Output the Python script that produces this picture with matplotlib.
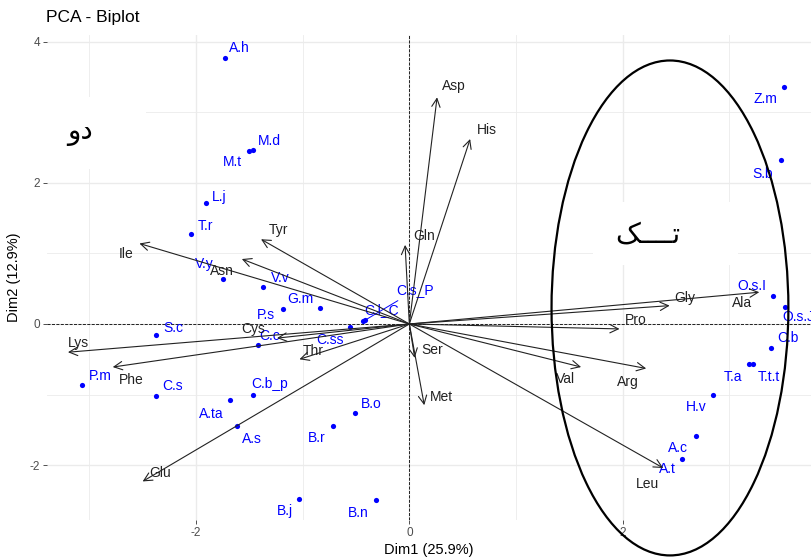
import matplotlib
matplotlib.use("Agg")
import matplotlib.pyplot as plt
from matplotlib.patches import Ellipse, Rectangle

plt.rcParams['font.family'] = ['Liberation Sans', 'DejaVu Sans']
plt.rcParams['axes.unicode_minus'] = False

# individuals (PCA scores, Dim1 / Dim2)
ind_names = ['A.h', 'M.d', 'M.t', 'L.j', 'T.r', 'V.y', 'V.v', 'P.s', 'G.m', 'C.s_P',
             'C.l_C', 'C.ss', 'S.c', 'C.c', 'P.m', 'C.s', 'C.b_p', 'A.ta', 'A.s', 'B.o',
             'B.r', 'B.j', 'B.n', 'Z.m', 'S.b', 'O.s.I', 'O.s.J', 'C.b', 'T.a', 'T.t.t',
             'H.v', 'A.c', 'A.t']
ind_x = [-1.73, -1.47, -1.50, -1.91, -2.05, -1.75, -1.37, -1.18, -0.84, -0.43,
         -0.42, -0.56, -2.37, -1.42, -3.07, -2.37, -1.47, -1.68, -1.62, -0.51,
         -0.72, -1.03, -0.31, 3.51, 3.48, 3.41, 3.52, 3.39, 3.18, 3.22,
         2.85, 2.69, 2.56]
ind_y = [3.77, 2.47, 2.45, 1.71, 1.28, 0.63, 0.52, 0.21, 0.22, 0.04,
         0.06, -0.04, -0.16, -0.30, -0.86, -1.02, -1.01, -1.08, -1.45, -1.26,
         -1.45, -2.48, -2.49, 3.36, 2.32, 0.40, 0.24, -0.34, -0.57, -0.57,
         -1.01, -1.59, -1.91]

# variables (loadings, scaled)
var_names = ['Asp', 'His', 'Gln', 'Tyr', 'Ile', 'Asn', 'Lys', 'Phe', 'Cys', 'Thr',
             'Glu', 'Ser', 'Met', 'Val', 'Arg', 'Pro', 'Gly', 'Ala', 'Leu']
var_x = [0.26, 0.57, -0.04, -1.39, -2.53, -1.57, -3.20, -2.78, -1.24, -1.03,
         -2.50, 0.05, 0.14, 1.61, 2.22, 1.97, 2.44, 3.28, 2.38]
var_y = [3.21, 2.62, 1.12, 1.20, 1.14, 0.92, -0.40, -0.61, -0.20, -0.50,
         -2.23, -0.48, -1.15, -0.61, -0.63, -0.07, 0.26, 0.45, -2.04]

xlab = 'Dim1 (25.9%)'
ylab = 'Dim2 (12.9%)'
title = 'PCA - Biplot'
group_two = 'دو'
group_one = 'تـــک'

# repelled label offsets in pixels
ind_off = {'A.h': (15, 10), 'M.d': (17, 9), 'M.t': (-17, -11), 'L.j': (14, 6), 'T.r': (15, 8),
           'V.y': (-18, 15), 'V.v': (17, 9), 'P.s': (-18, -6), 'G.m': (-19, 9),
           'C.s_P': (52, 31), 'C.l_C': (17, 10), 'C.ss': (-20, -13), 'S.c': (17, 7),
           'C.c': (12, 9), 'P.m': (18, 9), 'C.s': (16, 10), 'C.b_p': (17, 11),
           'A.ta': (-19, -14), 'A.s': (15, -13), 'B.o': (16, 9), 'B.r': (-16, -12),
           'B.j': (-15, -12), 'B.n': (-18, -13), 'Z.m': (-18, -12), 'S.b': (-18, -14),
           'O.s.I': (-21, 10), 'O.s.J': (14, -10), 'C.b': (17, 10), 'T.a': (-16, -13),
           'T.t.t': (16, -13), 'H.v': (-17, -12), 'A.c': (-18, -12), 'A.t': (-15, -10)}
var_off = {'Asp': (17, 11), 'His': (17, 9), 'Gln': (19, 9), 'Tyr': (17, 9), 'Ile': (-13, -11),
           'Asn': (-20, -12), 'Lys': (10, 9), 'Phe': (18, -13), 'Cys': (-24, 9),
           'Thr': (14, 8), 'Glu': (17, 8), 'Ser': (18, 8), 'Met': (17, 8), 'Val': (-16, -12),
           'Arg': (-18, -14), 'Pro': (16, 9), 'Gly': (15, 8), 'Ala': (-17, -11),
           'Leu': (-16, -16)}

fig = plt.figure(figsize=(8.11, 5.59), dpi=100)
ax = fig.add_axes([0.058, 0.0698, 0.942, 0.8676])
ax.set_xlim(-3.396, 3.765)
ax.set_ylim(-2.776, 4.093)

# theme_minimal look
for s in ax.spines.values():
    s.set_visible(False)
ax.set_axisbelow(True)
ax.set_xticks([-2, 0, 2])
ax.set_yticks([-2, 0, 2, 4])
ax.set_xticks([-3, -1, 1, 3], minor=True)
ax.set_yticks([-1, 1, 3], minor=True)
ax.grid(which='major', color='#ebebeb', lw=1.0)
ax.grid(which='minor', color='#ebebeb', lw=0.6)
ax.tick_params(which='major', length=3, width=0.6, color='#333333', labelcolor='#4d4d4d',
               labelsize=8.5, pad=2)
ax.tick_params(which='minor', length=0)
ax.set_xlabel(xlab, fontsize=10.5, labelpad=3)
ax.set_ylabel(ylab, fontsize=10.5, labelpad=6)
ax.set_title(title, fontsize=12.5, loc='left', x=-0.001, y=1.01)

ax.axhline(0, color='black', ls='--', lw=0.6, zorder=1)
ax.axvline(0, color='black', ls='--', lw=0.6, zorder=1)

# white boxes left by the pasted annotations
ax.add_patch(Rectangle((-3.5, 2.195), 1.03, 1.02, color='white', zorder=0.8, lw=0))
ax.add_patch(Rectangle((1.72, 0.836), 1.36, 0.892, color='white', zorder=0.8, lw=0))

# individuals
ax.scatter(ind_x, ind_y, s=14, color='blue', zorder=3, lw=0)
for n, x, y in zip(ind_names, ind_x, ind_y):
    dx, dy = ind_off[n]
    if n == 'C.s_P':
        ax.annotate(n, (x, y), xytext=(dx, dy), textcoords='offset pixels', color='blue',
                    fontsize=10, ha='center', va='center', zorder=4,
                    arrowprops=dict(arrowstyle='-', color='blue', lw=0.7, shrinkA=1, shrinkB=2))
    else:
        ax.annotate(n, (x, y), xytext=(dx, dy), textcoords='offset pixels', color='blue',
                    fontsize=10, ha='center', va='center', zorder=4)

# variable arrows
for n, x, y in zip(var_names, var_x, var_y):
    ax.annotate('', xy=(x, y), xytext=(0, 0),
                arrowprops=dict(arrowstyle='->,head_length=0.6,head_width=0.3', color='#222222',
                                lw=0.8, shrinkA=0, shrinkB=0, mutation_scale=10), zorder=5)
    dx, dy = var_off[n]
    ax.annotate(n, (x, y), xytext=(dx, dy), textcoords='offset pixels', color='#222222',
                fontsize=10, ha='center', va='center', zorder=6)

# group annotations (Persian written in display order, shaped forms)
ax.text(-3.086, 2.72, group_two[::-1], fontsize=20, family=['DejaVu Sans'],
        ha='center', va='center', zorder=7)
ax.text(2.24, 1.26, '\ufb8f\u0640\u0640\u0640\u0640\ufe97', fontsize=20, family=['DejaVu Sans'],
        ha='center', va='center', zorder=7)
ax.add_patch(Ellipse((2.443, 0.227), 2.22, 7.01, fill=False, lw=1.6, color='black',
                     zorder=8, clip_on=False))

fig.savefig('out.png', dpi=100)
